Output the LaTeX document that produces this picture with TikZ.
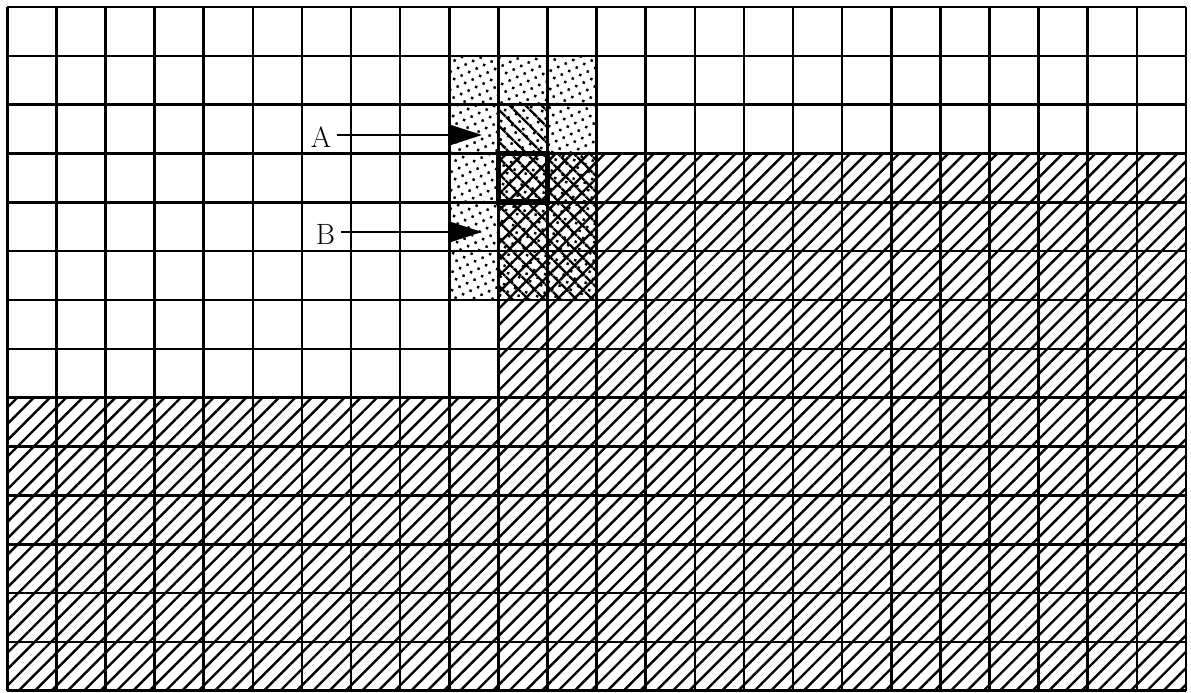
\documentclass[tikz,border=0pt]{standalone}
\usetikzlibrary{patterns.meta,arrows.meta}
\tikzset{
  gridline/.style={line width=1.5pt},
  fwdhatch/.style={pattern={Lines[angle=45,distance=6.7pt,line width=1.4pt]}},
  backhatch/.style={pattern={Lines[angle=-45,distance=6.4pt,line width=1.4pt]}},
  speckle/.style={pattern={Dots[radius=1pt,distance=4.8pt,angle=25]}},
  tag/.style={font=\fontsize{17}{20}\selectfont, inner sep=0pt},
  pointer/.style={-{Triangle[length=0.65cm,width=0.41cm]}, line width=1.2pt}
}
\begin{document}
\begin{tikzpicture}[x=1cm, y=0.9945cm]
\useasboundingbox (-0.149,0.143) rectangle (24.103,-14.046);
% shaded zones
\path[speckle] (9,-1) rectangle (12,-6);
\path[fwdhatch] (0,-14) -- (0,-8) -- (10,-8) -- (10,-3) -- (24,-3) -- (24,-14) -- cycle;
\path[backhatch] (10,-2) -- (11,-2) -- (11,-3) -- (12,-3) -- (12,-6) -- (10,-6) -- cycle;
% cells
\foreach \i in {0,...,24} \draw[gridline] (\i,0) -- (\i,-14);
\foreach \j in {0,...,14} \draw[gridline] (0,-\j) -- (24,-\j);
\draw[line width=3.3pt] (10,-3) rectangle (11,-4);
% labels
\node[tag] (labA) at (6.39,-2.672) {A};
\node[tag] (labB) at (6.48,-4.668) {B};
\coordinate (tipA) at (9.666,-2.621);
\coordinate (tipB) at (9.666,-4.607);
\draw[pointer] ([xshift=0.1cm]labA.east |- tipA) -- (tipA);
\draw[pointer] ([xshift=0.12cm]labB.east |- tipB) -- (tipB);
\end{tikzpicture}
\end{document}
